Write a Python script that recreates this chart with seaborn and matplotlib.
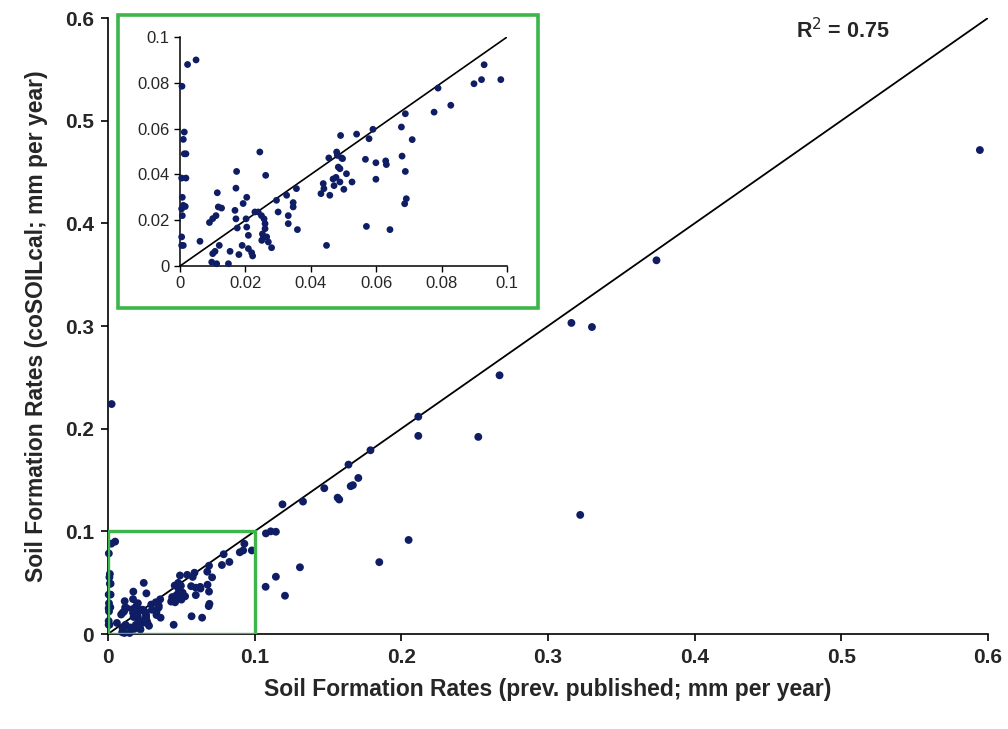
import numpy as np
import pandas as pd
import matplotlib
matplotlib.use("Agg")
import matplotlib.pyplot as plt
from matplotlib.patches import Rectangle
from matplotlib.ticker import FuncFormatter
import seaborn as sns

sns.set_style("ticks")
plt.rcParams['font.family'] = ['Liberation Sans', 'DejaVu Sans']

# Data (x = previously published, y = coSOILcal)
low_x = [0.0049, 0.0023, 0.0006, 0.0013, 0.0010, 0.0018, 0.0013, 0.0005, 0.0018, 0.0007,
         0.0010, 0.0016, 0.0005, 0.0007, 0.0005, 0.0005, 0.0010, 0.0061, 0.0090, 0.0100,
         0.0110, 0.0114, 0.0117, 0.0127, 0.0120, 0.0100, 0.0107, 0.0097, 0.0112, 0.0148,
         0.0153, 0.0168, 0.0171, 0.0173, 0.0171, 0.0175, 0.0180, 0.0193, 0.0204, 0.0202,
         0.0204, 0.0209, 0.0190, 0.0209, 0.0219, 0.0222, 0.0229, 0.0244, 0.0239, 0.0249,
         0.0262, 0.0257, 0.0260, 0.0260, 0.0252, 0.0255, 0.0250, 0.0265, 0.0270, 0.0280,
         0.0295, 0.0300, 0.0326, 0.0331, 0.0331, 0.0346, 0.0346, 0.0356, 0.0359, 0.0448,
         0.0431, 0.0438, 0.0440, 0.0458, 0.0455, 0.0468, 0.0471, 0.0477, 0.0479, 0.0481,
         0.0484, 0.0489, 0.0491, 0.0494, 0.0501, 0.0497, 0.0509, 0.0489, 0.0526, 0.0540,
         0.0578, 0.0590, 0.0567, 0.0599, 0.0599, 0.0570, 0.0629, 0.0631, 0.0642, 0.0677,
         0.0679, 0.0689, 0.0689, 0.0710, 0.0687, 0.0692, 0.0777, 0.0789, 0.0828, 0.0899,
         0.0922, 0.0930, 0.0981]
low_y = [0.0900, 0.0880, 0.0785, 0.0585, 0.0553, 0.0490, 0.0490, 0.0384, 0.0384, 0.0300,
         0.0265, 0.0260, 0.0250, 0.0220, 0.0127, 0.0090, 0.0090, 0.0108, 0.0190, 0.0207,
         0.0220, 0.0320, 0.0258, 0.0253, 0.0090, 0.0054, 0.0064, 0.0017, 0.0010, 0.0010,
         0.0064, 0.0243, 0.0340, 0.0413, 0.0206, 0.0166, 0.0050, 0.0273, 0.0300, 0.0206,
         0.0170, 0.0134, 0.0090, 0.0076, 0.0058, 0.0044, 0.0236, 0.0498, 0.0236, 0.0220,
         0.0396, 0.0206, 0.0185, 0.0163, 0.0140, 0.0127, 0.0112, 0.0127, 0.0105, 0.0080,
         0.0287, 0.0236, 0.0309, 0.0220, 0.0185, 0.0258, 0.0277, 0.0338, 0.0159, 0.0090,
         0.0316, 0.0360, 0.0338, 0.0309, 0.0472, 0.0380, 0.0351, 0.0387, 0.0498, 0.0483,
         0.0432, 0.0425, 0.0570, 0.0472, 0.0335, 0.0469, 0.0403, 0.0367, 0.0367, 0.0576,
         0.0556, 0.0597, 0.0466, 0.0451, 0.0379, 0.0173, 0.0459, 0.0443, 0.0159, 0.0607,
         0.0480, 0.0665, 0.0413, 0.0552, 0.0272, 0.0294, 0.0672, 0.0777, 0.0702, 0.0796,
         0.0814, 0.0879, 0.0814]

high_x = [0.0025, 0.1077, 0.1110, 0.1145, 0.1075, 0.1145, 0.1207, 0.1309, 0.1190, 0.1330,
          0.1475, 0.1566, 0.1577, 0.1640, 0.1670, 0.1655, 0.1707, 0.1790, 0.1850, 0.2050,
          0.2116, 0.2116, 0.2525, 0.2670, 0.3160, 0.3220, 0.3300, 0.3740, 0.5945]
high_y = [0.2240, 0.0980, 0.1000, 0.0996, 0.0460, 0.0558, 0.0373, 0.0650, 0.1263, 0.1290,
          0.1420, 0.1328, 0.1310, 0.1650, 0.1450, 0.1440, 0.1520, 0.1790, 0.0700, 0.0916,
          0.2117, 0.1930, 0.1920, 0.2520, 0.3030, 0.1160, 0.2990, 0.3640, 0.4714]

main_ticks = [0, 0.1, 0.2, 0.3, 0.4, 0.5, 0.6]
inset_xticks = [0, 0.02, 0.04, 0.06, 0.08, 0.1]
inset_yticks = [0, 0.02, 0.04, 0.06, 0.08, 0.1]
r2_text = "R$^2$ = 0.75"

df = pd.DataFrame({"published": low_x + high_x, "cosoil": low_y + high_y})
inset_df = pd.DataFrame({"published": low_x, "cosoil": low_y})

dot_color = "#0f1e64"
green = "#3cb54a"
fmt = FuncFormatter(lambda v, p: f"{v:g}")

fig = plt.figure(figsize=(10.08, 7.29), dpi=100)

# === main axes ===
ax = fig.add_axes([0.1071, 0.1303, 0.8730, 0.8450])
sns.scatterplot(data=df, x="published", y="cosoil", ax=ax, color=dot_color,
                s=32, edgecolor="none", clip_on=False, zorder=3)
ax.axline((0, 0), slope=1, color="black", lw=1.3, zorder=2)
ax.add_patch(Rectangle((0, 0), 0.1, 0.1, fill=False, edgecolor=green, lw=2.4, zorder=4))
ax.set_xlim(0, 0.6)
ax.set_ylim(0, 0.6)
ax.set_xticks(main_ticks)
ax.set_yticks(main_ticks)
ax.xaxis.set_major_formatter(fmt)
ax.yaxis.set_major_formatter(fmt)
for lab in ax.get_xticklabels() + ax.get_yticklabels():
    lab.set_fontweight("bold")
    lab.set_fontsize(15)
ax.tick_params(direction="out", length=5, width=1.2, color="black", pad=5)
ax.set_xlabel("Soil Formation Rates (prev. published; mm per year)",
              fontsize=16.5, fontweight="bold", labelpad=8)
ax.set_ylabel("Soil Formation Rates (coSOILcal; mm per year)",
              fontsize=16.5, fontweight="bold", labelpad=12)
sns.despine(ax=ax)
for sp in ["left", "bottom"]:
    ax.spines[sp].set_linewidth(1.2)
    ax.spines[sp].set_color("black")
ax.text(0.469, 0.588, r2_text, fontsize=15.5, fontweight="bold", ha="left", va="center")

# === inset ===
fig.add_artist(Rectangle((0.1171, 0.5775), 0.4167, 0.4019, transform=fig.transFigure,
                         facecolor="white", edgecolor=green, lw=2.6, zorder=5))
ins = fig.add_axes([0.1786, 0.6351, 0.3244, 0.3141], zorder=6)
sns.scatterplot(data=inset_df, x="published", y="cosoil", ax=ins, color=dot_color,
                s=24, edgecolor="none", clip_on=False, zorder=3)
ins.axline((0, 0), slope=1, color="black", lw=1.2, zorder=2)
ins.set_xlim(0, 0.1)
ins.set_ylim(0, 0.1)
ins.set_xticks(inset_xticks)
ins.set_yticks(inset_yticks)
ins.xaxis.set_major_formatter(fmt)
ins.yaxis.set_major_formatter(fmt)
ins.tick_params(direction="out", length=4, width=1, labelsize=12, color="black")
ins.set_xlabel("")
ins.set_ylabel("")
sns.despine(ax=ins)
for sp in ["left", "bottom"]:
    ins.spines[sp].set_linewidth(1.1)
    ins.spines[sp].set_color("black")

fig.savefig("out.png", dpi=100)
